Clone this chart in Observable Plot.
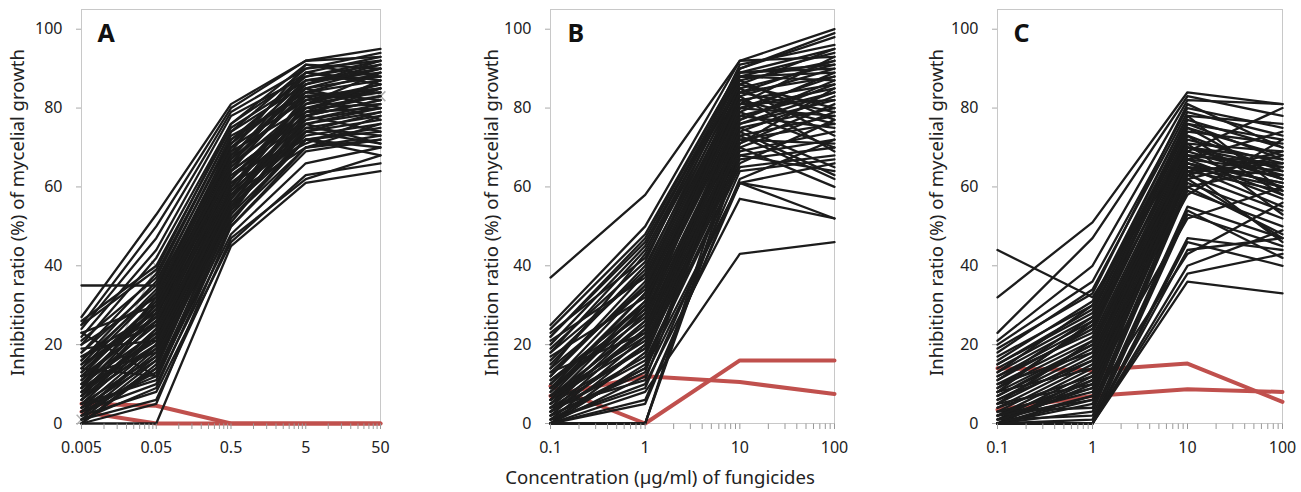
<!DOCTYPE html>
<html>
<head>
<meta charset="utf-8">
<script src="https://cdn.jsdelivr.net/npm/d3@7"></script>
<script src="https://cdn.jsdelivr.net/npm/@observablehq/plot@0.6"></script>
<style>
  html, body { margin: 0; padding: 0; background: #fff; }
  #wrap { position: relative; width: 1301px; height: 492px; font-family: "Noto Sans", sans-serif; }
  .panel { position: absolute; top: 0; }
  #xlabel { position: absolute; left: 0; width: 1320px; text-align: center; top: 464px; font-size: 18.6px; color: #222; }
</style>
</head>
<body>
<div id="wrap">
  <div class="panel" id="pA" style="left:0px"></div>
  <div class="panel" id="pB" style="left:440px"></div>
  <div class="panel" id="pC" style="left:880px"></div>
  <div id="xlabel">Concentration (µg/ml) of fungicides</div>
</div>
<script>
// ---- Data ----
const concA = [0.005, 0.05, 0.5, 5, 50];
const concBC = [0.1, 1, 10, 100];
const tickLabelsA = ["0.005", "0.05", "0.5", "5", "50"];
const tickLabelsBC = ["0.1", "1", "10", "100"];
const yTicks = [0, 20, 40, 60, 80, 100];
const panelLetters = ["A", "B", "C"];
const yLabel = "Inhibition ratio (%) of mycelial growth";

// Panel A isolates (inhibition % at 0.005, 0.05, 0.5, 5, 50)
const isolatesA = [
  [35, 35, 68, 85, 90], [27, 53, 81, 92, 95], [25, 50, 80, 92, 93], [24, 47, 79, 90, 94],
  [22, 44, 78, 88, 92], [20, 42, 76, 91, 90], [26, 40, 75, 87, 88], [18, 38, 74, 86, 91],
  [16, 36, 72, 84, 89], [15, 34, 71, 89, 87], [14, 33, 70, 82, 86], [20, 32, 69, 80, 85],
  [12, 31, 68, 85, 88], [10, 30, 67, 83, 84], [13, 29, 66, 79, 83], [9, 28, 65, 81, 86],
  [11, 27, 64, 78, 82], [8, 26, 63, 77, 80], [17, 25, 62, 80, 81], [7, 24, 61, 76, 79],
  [6, 23, 60, 82, 84], [5, 22, 59, 75, 78], [19, 21, 58, 74, 77], [4, 20, 57, 79, 80],
  [3, 19, 56, 73, 76], [12, 18, 55, 72, 75], [2, 17, 54, 76, 80], [1, 16, 53, 72, 74],
  [0, 15, 57, 78, 82], [0, 14, 60, 80, 83], [23, 30, 72, 88, 91], [21, 37, 74, 90, 92],
  [15, 27, 70, 87, 89], [8, 22, 66, 84, 87], [10, 25, 68, 86, 90], [6, 20, 62, 82, 85],
  [4, 12, 50, 70, 72], [3, 10, 48, 66, 70], [2, 8, 46, 63, 66], [1, 6, 47, 62, 68],
  [0, 5, 50, 69, 72], [0, 0, 45, 61, 64], [5, 11, 52, 72, 70], [14, 12, 55, 74, 71],
  [9, 32, 71, 85, 80], [7, 28, 64, 78, 74], [18, 35, 73, 83, 77], [12, 26, 61, 71, 78],
  [3, 18, 58, 70, 76], [6, 24, 63, 72, 68], [2, 14, 56, 77, 81], [11, 29, 67, 89, 93],
  [16, 33, 69, 91, 88], [9, 21, 60, 83, 85], [4, 16, 54, 75, 73], [13, 31, 66, 87, 90],
  [25, 39, 76, 89, 86], [7, 19, 59, 81, 84], [23, 12, 52, 70, 73], [10, 23, 58, 79, 87],
  [5, 17, 55, 81, 89], [17, 28, 65, 84, 82], [1, 9, 51, 74, 79], [8, 20, 57, 76, 71],
  [14, 30, 64, 86, 92], [3, 13, 53, 78, 85]
];
const controlsA = [[5, 4.5, 0, 0, 0], [3, 0, 0, 0, 0]];
const markersA = [1, 40, 71, 84, 83];

// Panel B isolates (inhibition % at 0.1, 1, 10, 100)
const isolatesB = [
  [37, 58, 92, 93], [25, 50, 92, 100], [24, 48, 90, 99], [22, 47, 90, 98],
  [20, 45, 89, 95], [18, 44, 88, 94], [23, 42, 87, 92], [15, 40, 86, 95],
  [12, 38, 85, 91], [21, 37, 84, 88], [10, 35, 83, 90], [14, 34, 82, 86],
  [8, 33, 81, 93], [17, 32, 80, 85], [6, 30, 79, 89], [11, 30, 78, 84],
  [5, 28, 77, 87], [9, 27, 76, 82], [4, 26, 75, 80], [7, 25, 74, 83],
  [3, 24, 73, 78], [13, 23, 72, 76], [2, 22, 71, 81], [6, 21, 70, 79],
  [1, 20, 69, 74], [5, 19, 68, 72], [0, 18, 67, 70], [3, 16, 66, 77],
  [0, 15, 65, 68], [2, 14, 61, 66], [0, 12, 61, 52], [1, 10, 57, 52],
  [0, 8, 43, 46], [0, 6, 61, 57], [0, 0, 70, 60], [0, 0, 73, 62],
  [0, 0, 68, 64], [4, 11, 75, 65], [8, 29, 88, 89], [16, 39, 89, 90],
  [19, 41, 91, 96], [10, 31, 80, 78], [7, 22, 78, 75], [12, 36, 85, 73],
  [3, 17, 72, 71], [5, 24, 79, 70], [9, 33, 83, 69], [2, 13, 76, 84],
  [6, 26, 86, 80], [14, 43, 88, 87], [11, 28, 82, 76], [1, 9, 64, 67],
  [4, 19, 74, 63], [13, 35, 84, 79], [0, 5, 62, 72], [22, 46, 89, 91],
  [7, 31, 81, 82], [18, 38, 87, 77], [3, 20, 77, 86], [9, 29, 84, 92],
  [1, 14, 71, 85], [6, 23, 80, 88]
];
const controlsB = [[7, 12, 10.5, 7.5], [9.5, 0, 16, 16]];

// Panel C isolates (inhibition % at 0.1, 1, 10, 100)
const isolatesC = [
  [44, 32, 70, 65], [32, 51, 84, 81], [23, 47, 83, 78], [21, 40, 82, 81],
  [20, 36, 80, 75], [18, 34, 79, 73], [17, 30, 78, 76], [15, 28, 77, 70],
  [14, 27, 76, 72], [13, 26, 75, 68], [12, 25, 74, 71], [11, 24, 72, 66],
  [10, 22, 71, 69], [9, 21, 70, 63], [8, 20, 70, 67], [7, 19, 69, 62],
  [6, 18, 68, 65], [5, 17, 68, 60], [4, 16, 67, 64], [3, 15, 67, 58],
  [2, 14, 66, 61], [1, 13, 66, 57], [0, 12, 65, 63], [0, 11, 65, 55],
  [0, 10, 64, 59], [1, 9, 64, 66], [2, 8, 63, 54], [0, 7, 62, 68],
  [0, 5, 61, 52], [3, 4, 60, 48], [0, 3, 59, 50], [1, 2, 55, 47],
  [0, 1, 54, 42], [0, 0, 53, 45], [0, 0, 47, 44], [0, 0, 46, 40],
  [0, 0, 44, 47], [0, 0, 40, 49], [0, 0, 38, 43], [0, 0, 36, 33],
  [2, 6, 43, 56], [5, 10, 52, 60], [8, 14, 58, 72], [10, 18, 62, 47],
  [12, 23, 73, 58], [15, 29, 75, 62], [19, 33, 81, 70], [6, 16, 67, 74],
  [4, 12, 69, 80], [9, 25, 71, 53], [11, 27, 73, 64], [3, 9, 63, 69],
  [7, 20, 66, 61], [13, 30, 76, 67], [16, 31, 78, 59], [0, 6, 64, 46],
  [2, 11, 60, 65], [5, 21, 68, 66], [8, 26, 70, 62], [1, 7, 65, 60]
];
const controlsC = [[14, 13.5, 15.2, 5.5], [3.5, 7, 8.7, 8]];

// ---- Helpers ----
function toRows(series, conc) {
  return series.flatMap((vals, id) => vals.map((v, i) => ({id, x: conc[i], y: v})));
}
function minorTicks(majors) {
  const out = [];
  majors.slice(0, -1).forEach(m => { for (let k = 2; k <= 9; k++) out.push(+(m * k).toPrecision(6)); });
  return out;
}

const FONT = "Noto Sans, sans-serif";
const BLACK = "#1c1c1c";
const RED = "#c0504d";

function panel({el, width, marginLeft, marginRight, conc, tickLabels, isolates, controls, markers, letter, letterDx, ylabDx}) {
  const tickRows = tickLabels.map((t, i) => ({x: conc[i], t}));
  const tickData = conc.concat(minorTicks(conc)).map(v => ({x: v}));
  const marks = [
    Plot.frame({stroke: "#c8c8c8"}),
    Plot.axisY({ticks: yTicks, tickSize: 5, tickPadding: 14, stroke: "#aaa", fill: "#222", label: null, fontSize: 16}),
    Plot.text(tickRows, {x: "x", text: "t", frameAnchor: "bottom", dy: 24, lineAnchor: "middle", textAnchor: "middle", fontSize: 16, fill: "#222"}),
  ];
  if (markers) {
    const mrows = markers.map((v, i) => ({x: conc[i], y: v}));
    marks.push(Plot.line(mrows, {x: "x", y: "y", stroke: "#bbb", strokeWidth: 1.5}));
    marks.push(Plot.dot(mrows, {x: "x", y: "y", symbol: "times", r: 4.5, stroke: "#b0b0b0", strokeWidth: 1.5}));
  }
  marks.push(Plot.line(toRows(controls, conc), {x: "x", y: "y", z: "id", stroke: RED, strokeWidth: 4}));
  marks.push(Plot.line(toRows(isolates, conc), {x: "x", y: "y", z: "id", stroke: BLACK, strokeWidth: 2.3}));
  marks.push(Plot.link(tickData, {x1: "x", x2: "x", y1: () => 0, y2: () => -1.4, stroke: "#999", strokeWidth: 1}));
  marks.push(Plot.text([letter], {frameAnchor: "top-left", dx: letterDx, dy: 24, lineAnchor: "middle", textAnchor: "start", fontSize: 25, fontWeight: "bold", fill: "#111"}));
  marks.push(Plot.text([yLabel], {frameAnchor: "left", rotate: -90, dx: ylabDx, dy: -4, textAnchor: "middle", lineAnchor: "middle", fontSize: 18.6, fill: "#222"}));
  const svg = Plot.plot({
    width, height: 460,
    marginTop: 9, marginBottom: 37, marginLeft, marginRight,
    x: {type: "log", domain: [conc[0], conc[conc.length - 1]], axis: null},
    y: {domain: [0, 105], axis: null},
    style: {fontFamily: FONT, fontSize: "16px", color: "#222", background: "transparent", overflow: "visible"},
    marks
  });
  document.getElementById(el).appendChild(svg);
}

panel({el: "pA", width: 430, marginLeft: 81, marginRight: 50, conc: concA, tickLabels: tickLabelsA,
  isolates: isolatesA, controls: controlsA, markers: markersA, letter: panelLetters[0], letterDx: 16, ylabDx: -63});
panel({el: "pB", width: 430, marginLeft: 110, marginRight: 36, conc: concBC, tickLabels: tickLabelsBC,
  isolates: isolatesB, controls: controlsB, markers: null, letter: panelLetters[1], letterDx: 17, ylabDx: -58});
panel({el: "pC", width: 421, marginLeft: 117, marginRight: 19, conc: concBC, tickLabels: tickLabelsBC,
  isolates: isolatesC, controls: controlsC, markers: null, letter: panelLetters[2], letterDx: 16, ylabDx: -60});
</script>
</body>
</html>
